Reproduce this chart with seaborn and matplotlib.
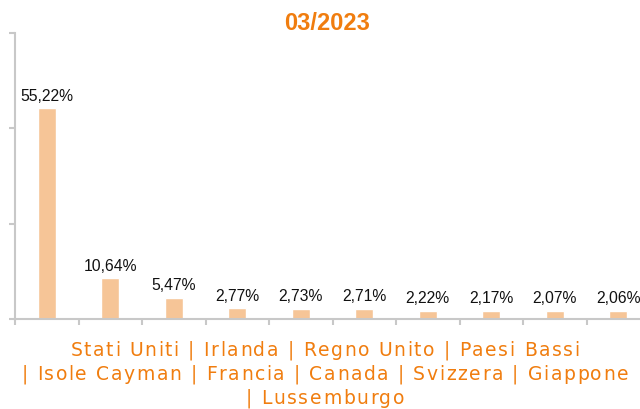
import matplotlib
matplotlib.use("Agg")
import matplotlib.pyplot as plt
from matplotlib.font_manager import FontProperties, findfont, get_font
import seaborn as sns
import pandas as pd

countries = ["Stati Uniti", "Irlanda", "Regno Unito", "Paesi Bassi", "Isole Cayman",
             "Francia", "Canada", "Svizzera", "Giappone", "Lussemburgo"]
values = [55.22, 10.64, 5.47, 2.77, 2.73, 2.71, 2.22, 2.17, 2.07, 2.06]
title = "03/2023"

ORANGE = "#F07D0F"
BAR = "#F6C597"
AXIS = "#C8C8C8"
W, H = 640, 409


def spaced_text(fig, cx, baseline, s, size, spacing, **kw):
    # matplotlib has no letter-spacing, so place the glyphs one by one
    prop = FontProperties(family="DejaVu Sans", size=size)
    font = get_font(findfont(prop))
    font.set_size(size, fig.dpi)
    hf = plt.rcParams["text.hinting_factor"]
    adv = [font.load_char(ord(c)).horiAdvance / 64 / hf for c in s]
    total = sum(adv) + spacing * (len(s) - 1)
    x = cx - total / 2
    for c, a in zip(s, adv):
        if c != " ":
            fig.text(x / W, 1 - baseline / H, c, ha="left", va="baseline",
                     fontproperties=prop, **kw)
        x += a + spacing


def plot_chart(df):
    sns.set_style("white")
    fig = plt.figure(figsize=(6.4, 4.09), dpi=100)
    ax = fig.add_axes([15 / W, 90 / H, 635 / W, 286 / H])

    sns.barplot(data=df, x="country", y="value", color=BAR, width=0.28,
                saturation=1, ax=ax)

    for i, v in enumerate(df["value"]):
        ax.annotate(f"{v:.2f}%".replace(".", ","), (i, v), xytext=(0, 3.5),
                    textcoords="offset points", ha="center", va="bottom",
                    fontsize=11.3, family="Liberation Sans", color="#111111")

    ax.set_xlim(-0.5, len(df) - 0.5)
    ax.set_ylim(0, 75)
    ax.set_xticks([i - 0.5 for i in range(len(df) + 1)])
    ax.set_xticklabels([])
    ax.set_yticks([0, 25, 50, 75])
    ax.set_yticklabels([])
    ax.set_xlabel("")
    ax.set_ylabel("")
    ax.tick_params(axis="both", direction="out", length=4.5, width=1.5, color=AXIS,
                   bottom=True, left=True)

    for side in ["top", "right"]:
        ax.spines[side].set_visible(False)
    for side in ["left", "bottom"]:
        ax.spines[side].set_color(AXIS)
        ax.spines[side].set_linewidth(1.5)

    fig.text(327 / W, 1 - 29.5 / H, title, ha="center", va="baseline",
             fontsize=17, fontweight="bold", color=ORANGE, family="Liberation Sans")

    lines = [" | ".join(df["country"][:4]),
             "| " + " | ".join(df["country"][4:9]),
             "| " + df["country"].iloc[9]]
    for k, line in enumerate(lines):
        spaced_text(fig, 325, 356 + 24 * k, line, 13.5, 1.6, color=ORANGE)

    fig.savefig("out.png", dpi=100)


if __name__ == "__main__":
    df = pd.DataFrame({"country": countries, "value": values})
    plot_chart(df)
